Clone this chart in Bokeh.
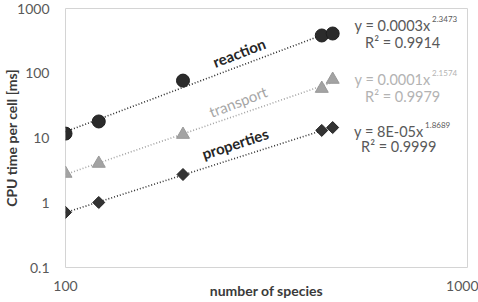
import numpy as np
from bokeh.plotting import figure
from bokeh.models import FixedTicker, Label
from bokeh.embed import file_html
from bokeh.resources import INLINE

# ---- data ----
species = [100, 121, 196, 434, 462]
reaction = [11.7, 18.0, 77.0, 383, 411]
transport = [2.83, 4.04, 11.3, 58, 80]
properties = [0.71, 1.01, 2.73, 13.1, 14.5]

series_names = ["reaction", "transport", "properties"]
equations = ["y = 0.0003x", "y = 0.0001x", "y = 8E-05x"]
exponents = ["2.3473", "2.1574", "1.8689"]
r2_texts = ["R\u00b2 = 0.9914", "R\u00b2 = 0.9979", "R\u00b2 = 0.9999"]

y_ticks = [0.1, 1, 10, 100, 1000]
y_tick_labels = ["0.1", "1", "10", "100", "1000"]
x_ticks = [100, 1000]
x_tick_labels = ["100", "1000"]

W, H = 478, 302
FL, FR, FT, FB = 64, 467, 8, 267
FONT = "Lato"

p = figure(width=W, height=H, x_axis_type="log", y_axis_type="log",
           x_range=(100, 1000), y_range=(0.1, 1000),
           output_backend="svg", toolbar_location=None,
           min_border_left=FL, min_border_right=W - FR,
           min_border_top=FT, min_border_bottom=H - FB)
p.background_fill_color = "white"
p.border_fill_color = "white"
p.outline_line_color = "#d4d4d4"
p.outline_line_width = 1
p.xgrid.grid_line_color = None
p.ygrid.grid_line_color = None


def to_data(xp, yp):
    """convert pixel position (for annotation placement) to data coords"""
    xd = 10 ** (2 + (xp - FL) / (FR - FL))
    yd = 10 ** (3 - (yp - FT) / (FB - FT) * 4)
    return xd, yd


for ax, ticks, labels in ((p.yaxis, y_ticks, y_tick_labels), (p.xaxis, x_ticks, x_tick_labels)):
    ax.ticker = FixedTicker(ticks=ticks)
    ax.major_label_overrides = {t: l for t, l in zip(ticks, labels)}
    ax.axis_line_color = None
    ax.major_tick_line_color = None
    ax.minor_tick_line_color = None
    ax.major_label_text_font = FONT
    ax.major_label_text_font_size = "14px"
    ax.major_label_text_color = "#595959"
    ax.axis_label_text_font = FONT
    ax.axis_label_text_font_style = "bold"
    ax.axis_label_text_font_size = "14px"
    ax.axis_label_text_color = "#3a3a3a"
p.yaxis.major_label_standoff = 10
p.yaxis.major_label_text_align = "right"
p.xaxis.major_label_standoff = 7
p.yaxis.axis_label = "CPU time per cell [ms]"
p.yaxis.axis_label_standoff = -6
p.xaxis.axis_label = "number of species"
p.xaxis.axis_label_standoff = -12

colors = ["#2b2b2b", "#a3a3a3", "#333333"]
data = [reaction, transport, properties]
lx = np.log10(species)
for vals, col in zip(data, colors):
    a, b = np.polyfit(lx, np.log10(vals), 1)
    xs = [species[0], species[-1]]
    ys = [10 ** (b + a * np.log10(x)) for x in xs]
    p.line(xs, ys, line_color=col, line_width=1.6, line_dash="1 2")

p.scatter(species, reaction, marker="circle", size=13, fill_color="#2b2b2b",
          line_color="#1e1e1e")
p.scatter(species, transport, marker="triangle", size=13, fill_color="#a3a3a3",
          line_color="#999999")
p.scatter(species, properties, marker="square", size=8.5, angle=np.pi / 4,
          fill_color="#333333", line_color="#222222")

# series labels along trend lines
lab_pos = [(238, 52), (237, 101), (234, 143)]
lab_ang = [21, 21, 18]
lab_style = [("bold", "#262626"), ("normal", "#a6a6a6"), ("bold", "#262626")]
for name, (xp, yp), ang, (st, col) in zip(series_names, lab_pos, lab_ang, lab_style):
    xd, yd = to_data(xp, yp)
    p.add_layout(Label(x=xd, y=yd, text=name, angle=ang, angle_units="deg",
                       text_align="center", text_baseline="middle",
                       text_font=FONT, text_font_style=st, text_font_size="15px",
                       text_color=col))

# equations
eq_y = [25, 79, 131]
exp_y = [18, 72, 124]
r2_y = [42, 96, 146]
eq_right = [430, 430, 423]
r2_cx = [402, 402, 398]
eq_cols = ["#595959", "#b3b3b3", "#595959"]
for i in range(3):
    xd, yd = to_data(eq_right[i], eq_y[i])
    p.add_layout(Label(x=xd, y=yd, text=equations[i], text_align="right",
                       text_baseline="middle", text_font=FONT,
                       text_font_size="14.5px", text_color=eq_cols[i]))
    xd, yd = to_data(eq_right[i] + 1.5, exp_y[i])
    p.add_layout(Label(x=xd, y=yd, text=exponents[i], text_align="left",
                       text_baseline="middle", text_font=FONT,
                       text_font_size="8px", text_color=eq_cols[i]))
    xd, yd = to_data(r2_cx[i], r2_y[i])
    p.add_layout(Label(x=xd, y=yd, text=r2_texts[i], text_align="center",
                       text_baseline="middle", text_font=FONT,
                       text_font_size="14.5px", text_color=eq_cols[i]))

open("out.html", "w").write(file_html(p, INLINE))
